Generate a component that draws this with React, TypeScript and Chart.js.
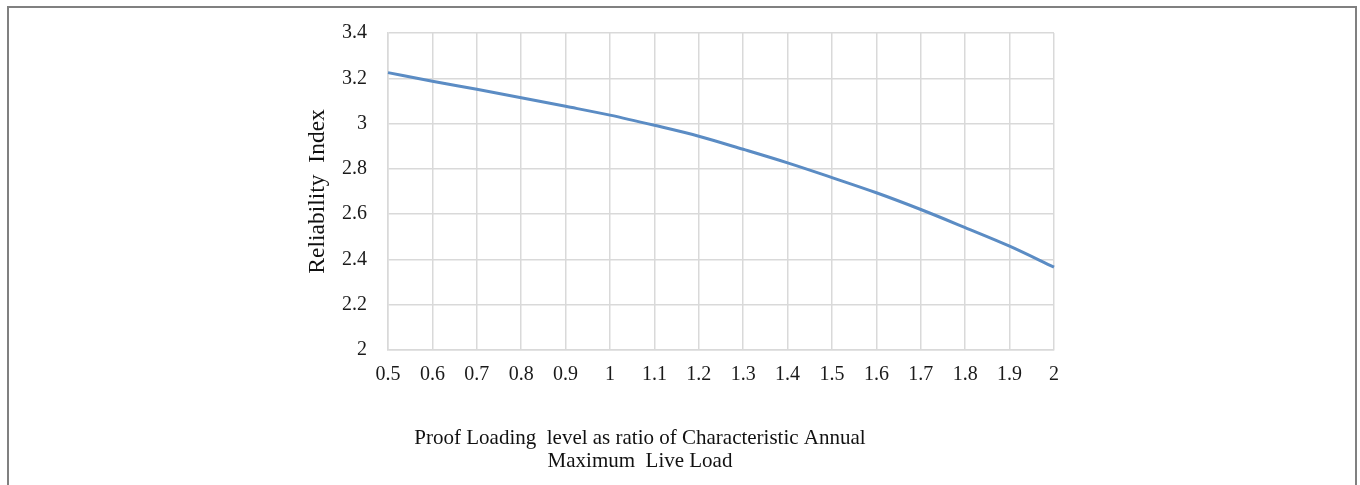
import React, { useEffect, useRef } from "react";
import { Chart, registerables } from "chart.js";

Chart.register(...registerables);

// ---- data ----
const xLabels = ["0.5", "0.6", "0.7", "0.8", "0.9", "1", "1.1", "1.2", "1.3", "1.4", "1.5", "1.6", "1.7", "1.8", "1.9", "2"];
const reliabilityIndex = [3.225, 3.187, 3.151, 3.114, 3.076, 3.037, 2.992, 2.944, 2.886, 2.826, 2.761, 2.694, 2.62, 2.54, 2.458, 2.365];
const yMin = 2;
const yMax = 3.4;
const yStep = 0.2;
const yTickLabels = ["2", "2.2", "2.4", "2.6", "2.8", "3", "3.2", "3.4"];
const yAxisTitle = "Reliability  Index";
const xAxisTitle = ["Proof Loading  level as ratio of Characteristic Annual", "Maximum  Live Load"];

const SERIF = '"Liberation Serif", "Times New Roman", Times, serif';
const GRID = "#d9d9d9";

export default function App() {
  const ref = useRef<HTMLCanvasElement>(null);

  useEffect(() => {
    const chart = new Chart(ref.current as HTMLCanvasElement, {
      type: "line",
      data: {
        labels: xLabels,
        datasets: [
          {
            data: reliabilityIndex,
            borderColor: "#5b8cc4",
            borderWidth: 3,
            pointRadius: 0,
            cubicInterpolationMode: "monotone",
            fill: false,
          },
        ],
      },
      options: {
        responsive: false,
        animation: false,
        devicePixelRatio: 1,
        layout: { padding: { left: 226, right: 306, top: 31, bottom: 12 } },
        plugins: {
          legend: { display: false },
          tooltip: { enabled: false },
          title: {
            display: true,
            text: xAxisTitle,
            position: "bottom",
            fullSize: true,
            align: "center",
            color: "#111",
            font: { family: SERIF, size: 21, weight: "normal", lineHeight: 1.1 },
            padding: { top: 42, bottom: 0 },
          },
        },
        scales: {
          x: {
            type: "category",
            offset: false,
            grid: { color: GRID, lineWidth: 1.5, drawTicks: false, offset: false },
            border: { color: GRID, width: 1.5 },
            ticks: {
              padding: 13,
              color: "#1a1a1a",
              autoSkip: false,
              maxRotation: 0,
              font: { family: SERIF, size: 20 },
            },
            afterFit: (s: any) => {
              s.height = 35;
            },
          },
          y: {
            min: yMin,
            max: yMax,
            grid: { color: GRID, lineWidth: 1.5, drawTicks: false },
            border: { color: GRID, width: 1.5 },
            ticks: {
              stepSize: yStep,
              padding: 21,
              color: "#1a1a1a",
              font: { family: SERIF, size: 20 },
              callback: (_v: any, i: number) => yTickLabels[i],
            },
            title: {
              display: true,
              text: yAxisTitle,
              color: "#111",
              font: { family: SERIF, size: 23.5 },
              padding: { top: 78, bottom: 0 },
            },
            afterFit: (s: any) => {
              s.width = 162;
            },
          },
        },
      },
    } as any);
    return () => chart.destroy();
  }, []);

  return (
    <div style={{ position: "absolute", left: 0, top: 0, width: 1360, height: 485, overflow: "hidden", background: "#fff" }}>
      <div
        style={{
          position: "absolute",
          left: 7,
          top: 6,
          width: 1350,
          height: 520,
          boxSizing: "border-box",
          borderTop: "2px solid #808080",
          borderLeft: "2px solid #808080",
          borderRight: "2px solid #808080",
        }}
      />
      <canvas ref={ref} width={1360} height={485} style={{ position: "absolute", left: 0, top: 0 }} />
    </div>
  );
}
